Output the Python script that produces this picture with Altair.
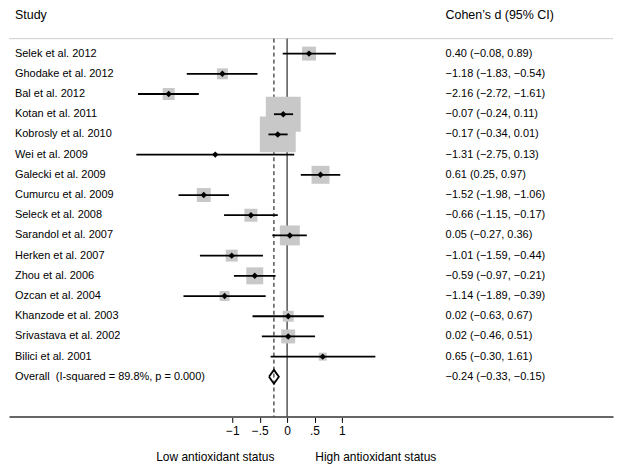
import altair as alt
import pandas as pd

studies = ["Selek et al. 2012", "Ghodake et al. 2012", "Bal et al. 2012", "Kotan et al. 2011",
           "Kobrosly et al. 2010", "Wei et al. 2009", "Galecki et al. 2009", "Cumurcu et al. 2009",
           "Seleck et al. 2008", "Sarandol et al. 2007", "Herken et al. 2007", "Zhou et al. 2006",
           "Ozcan et al. 2004", "Khanzode et al. 2003", "Srivastava et al. 2002", "Bilici et al. 2001"]
d = [0.40, -1.18, -2.16, -0.07, -0.17, -1.31, 0.61, -1.52, -0.66, 0.05, -1.01, -0.59, -1.14, 0.02, 0.02, 0.65]
lo = [-0.08, -1.83, -2.72, -0.24, -0.34, -2.75, 0.25, -1.98, -1.15, -0.27, -1.59, -0.97, -1.89, -0.63, -0.46, -0.30]
hi = [0.89, -0.54, -1.61, 0.11, 0.01, 0.13, 0.97, -1.06, -0.17, 0.36, -0.44, -0.21, -0.39, 0.67, 0.51, 1.61]
box_side = [14, 11, 12, 35, 36, 3, 18, 14, 13, 20, 12, 17, 10, 11, 14, 8]

overall_label = "Overall\u00a0 (I-squared = 89.8%, p = 0.000)"
overall_d, overall_lo, overall_hi = -0.24, -0.33, -0.15

tick_values = [-1, -0.5, 0, 0.5, 1]

FONT = "Liberation Sans"
W, H = 606, 408
XDOM = [-5.0727, 5.945]
YDOM = [-1.171, 18.958]


def fmt(v):
    return f"{v:.2f}".replace("-", "\u2212")


rows = list(range(1, len(studies) + 1))
df = pd.DataFrame({
    "row": rows, "study": studies, "d": d, "lo": lo, "hi": hi,
    "area": [s * s for s in box_side],
    "ci_text": [f"{fmt(a)} ({fmt(b)}, {fmt(c)})" for a, b, c in zip(d, lo, hi)],
})
ov_row = len(studies) + 1
ov_df = pd.DataFrame({"row": [ov_row], "study": [overall_label], "d": [overall_d],
                      "ci_text": [f"{fmt(overall_d)} ({fmt(overall_lo)}, {fmt(overall_hi)})"]})
half = 0.345
diamond = pd.DataFrame({
    "x": [overall_lo, overall_d, overall_hi, overall_d, overall_lo],
    "y": [ov_row, ov_row - half, ov_row, ov_row + half, ov_row],
    "o": [0, 1, 2, 3, 4],
})

xs = alt.Scale(domain=XDOM, nice=False, zero=False)
ys = alt.Scale(domain=YDOM, nice=False, zero=False, reverse=True)

label_expr = ("datum.value == -1 ? '\u22121' : datum.value == -0.5 ? '\u2212.5' : "
              "datum.value == 0 ? '0' : datum.value == 0.5 ? '.5' : '1'")

base = alt.Chart(df)

axis_layer = alt.Chart(pd.DataFrame({"v": [0]})).mark_rule(opacity=0).encode(
    x=alt.X("v:Q", scale=xs, axis=alt.Axis(values=tick_values, labelExpr=label_expr, title=None,
                                            grid=False, domainColor="#666666", domainWidth=2,
                                            tickColor="#000000", tickSize=6, tickWidth=1,
                                            labelFont=FONT, labelFontSize=12, labelColor="#000000",
                                            labelPadding=3)),
)

top_line = alt.Chart(pd.DataFrame({"v": [0]})).mark_rule(color="#d0d0d0", strokeWidth=1).encode(
    x=alt.value(0), x2=alt.value(W), y=alt.value(29))

zero_line = alt.Chart(pd.DataFrame({"v": [0]})).mark_rule(color="#000000", strokeWidth=1).encode(
    x=alt.X("v:Q", scale=xs), y=alt.value(29), y2=alt.value(H))

dash_line = alt.Chart(ov_df).mark_rule(color="#000000", strokeWidth=1, strokeDash=[4, 3]).encode(
    x=alt.X("d:Q", scale=xs), y=alt.value(29), y2=alt.value(H))

boxes = base.mark_square(color="#c8c8c8", opacity=1).encode(
    x=alt.X("d:Q", scale=xs), y=alt.Y("row:Q", scale=ys, axis=None),
    size=alt.Size("area:Q", scale=None))

ci = base.mark_rule(color="#000000", strokeWidth=1.8).encode(
    x=alt.X("lo:Q", scale=xs), x2="hi:Q", y=alt.Y("row:Q", scale=ys))

pts = base.mark_point(shape="diamond", filled=True, color="#000000", size=42, opacity=1).encode(
    x=alt.X("d:Q", scale=xs), y=alt.Y("row:Q", scale=ys))

dia = alt.Chart(diamond).mark_line(color="#000000", strokeWidth=1.8).encode(
    x=alt.X("x:Q", scale=xs), y=alt.Y("y:Q", scale=ys), order="o:Q")

left_txt = base.mark_text(align="left", baseline="middle", font=FONT, fontSize=11, color="#000000").encode(
    x=alt.value(6), y=alt.Y("row:Q", scale=ys), text="study:N")
right_txt = base.mark_text(align="left", baseline="middle", font=FONT, fontSize=11, color="#000000").encode(
    x=alt.value(438), y=alt.Y("row:Q", scale=ys), text="ci_text:N")
ov_left = alt.Chart(ov_df).mark_text(align="left", baseline="middle", font=FONT, fontSize=11, color="#000000").encode(
    x=alt.value(6), y=alt.Y("row:Q", scale=ys), text="study:N")
ov_right = alt.Chart(ov_df).mark_text(align="left", baseline="middle", font=FONT, fontSize=11, color="#000000").encode(
    x=alt.value(438), y=alt.Y("row:Q", scale=ys), text="ci_text:N")

headers = alt.Chart(pd.DataFrame({"t": ["Study", "Cohen\u2019s d (95% CI)"], "px": [6, 438]})).mark_text(
    align="left", baseline="middle", font=FONT, fontSize=12.5, color="#000000").encode(
    x=alt.X("px:Q", scale=None), y=alt.value(5), text="t:N")

bottom = alt.Chart(pd.DataFrame({"t": ["Low antioxidant status", "High antioxidant status"],
                                 "px": [207, 368]})).mark_text(
    align="center", baseline="middle", font=FONT, fontSize=12, color="#000000").encode(
    x=alt.X("px:Q", scale=None), y=alt.value(449), text="t:N")

chart = alt.layer(axis_layer, top_line, zero_line, dash_line, boxes, ci, pts, dia,
                  left_txt, right_txt, ov_left, ov_right, headers, bottom).properties(
    width=W, height=H, padding=0, background="#ffffff"
).configure_view(stroke=None)

chart.save("out.html", embed_options={"renderer": "svg", "actions": False})
